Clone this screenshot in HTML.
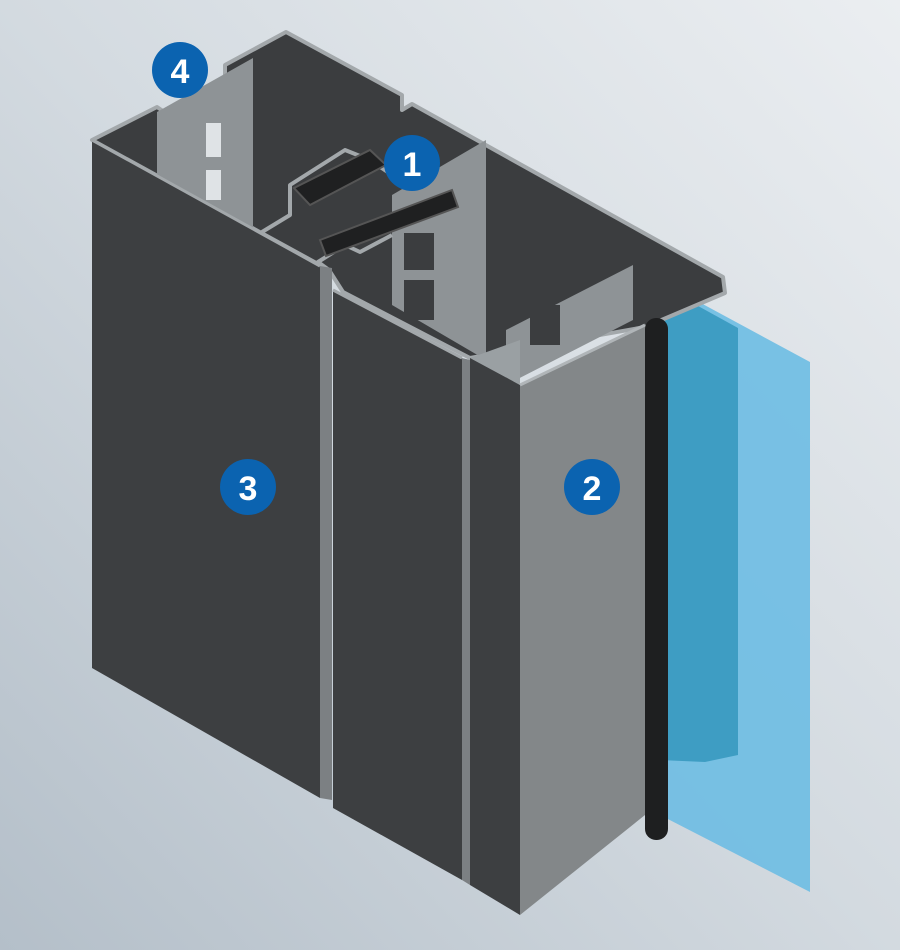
<!DOCTYPE html>
<html><head><meta charset="utf-8"><style>
html,body{margin:0;padding:0;width:900px;height:950px;overflow:hidden}
svg{display:block}
text{font-family:"Liberation Sans",sans-serif;font-weight:bold;fill:#fff}
</style></head><body>
<svg width="900" height="950" viewBox="0 0 900 950" xmlns="http://www.w3.org/2000/svg">
<defs>
<linearGradient id="bg" x1="0" y1="1" x2="1" y2="0">
<stop offset="0" stop-color="#b4bfc9"/><stop offset="0.5" stop-color="#d3dae0"/><stop offset="1" stop-color="#ebeef1"/>
</linearGradient>
</defs>
<rect width="900" height="950" fill="url(#bg)"/>
<!-- glass -->
<polygon points="636,268 810,362 810,892 660,815 655,300" fill="#6dbde3" opacity="0.9"/>
<polygon points="660,285 738,328 738,755 705,762 660,760" fill="#3799bf" opacity="0.9"/>
<!-- top silhouette -->
<polygon points="92,140 157,107 176,120 225,95 225,65 286,32 402,95 402,110 412,104 723,277 725,293 645,327 470,358 343,292 329,270" fill="#3b3d3f" stroke="#a3a8ab" stroke-width="4" stroke-linejoin="round"/>
<!-- webs -->
<polygon points="157,112 253,58 253,229 157,176" fill="#8e9396"/>
<rect x="206" y="123" width="15" height="34" fill="#dfe3e6"/>
<rect x="206" y="170" width="15" height="30" fill="#dfe3e6"/>
<polygon points="392,195 486,140 486,360 392,305" fill="#8e9396"/>
<rect x="404" y="233" width="30" height="37" fill="#3b3d3f"/>
<rect x="404" y="280" width="30" height="40" fill="#3b3d3f"/>
<polyline points="262,232 290,215 290,185 345,150 370,160 392,175" fill="none" stroke="#a3a8ab" stroke-width="4" stroke-linejoin="round"/>
<polyline points="329,270 318,262 345,245 360,252 392,235" fill="none" stroke="#a3a8ab" stroke-width="4" stroke-linejoin="round"/>
<polygon points="294,188 370,150 386,165 310,205" fill="#1f2021" stroke="#555" stroke-width="2"/>
<polygon points="320,240 452,190 458,207 326,256" fill="#1f2021" stroke="#555" stroke-width="2"/>
<polygon points="506,330 633,265 633,320 506,385" fill="#8e9396"/>
<rect x="530" y="305" width="30" height="40" fill="#3b3d3f"/>
<polygon points="470,358 520,340 520,385" fill="#9aa0a3"/>
<!-- faces -->
<polygon points="92,140 320,266 320,798 92,668" fill="#3d3f41"/>
<polyline points="92,140 320,266" stroke="#a3a8ab" stroke-width="3" fill="none"/>
<polygon points="320,266 332,268 332,800 320,798" fill="#7c8083"/>
<polygon points="333,290 462,358 462,880 333,808" fill="#3d3f41"/>
<polyline points="333,290 462,358" stroke="#a3a8ab" stroke-width="3" fill="none"/>
<polygon points="462,358 470,360 470,885 462,880" fill="#7c8083"/>
<polygon points="470,358 520,385 520,915 470,885" fill="#3d3f41"/>
<polygon points="520,385 645,325 645,815 520,915" fill="#838789"/>
<polyline points="520,385 645,325" stroke="#b0b5b8" stroke-width="3" fill="none"/>
<rect x="645" y="318" width="23" height="522" rx="11" fill="#1e1f20"/>
<!-- labels -->
<circle cx="180" cy="70" r="28" fill="#0b63b0"/><text x="180" y="83" font-size="34" text-anchor="middle">4</text>
<circle cx="412" cy="163" r="28" fill="#0b63b0"/><text x="412" y="176" font-size="34" text-anchor="middle">1</text>
<circle cx="248" cy="487" r="28" fill="#0b63b0"/><text x="248" y="500" font-size="34" text-anchor="middle">3</text>
<circle cx="592" cy="487" r="28" fill="#0b63b0"/><text x="592" y="500" font-size="34" text-anchor="middle">2</text>
</svg>
</body></html>
